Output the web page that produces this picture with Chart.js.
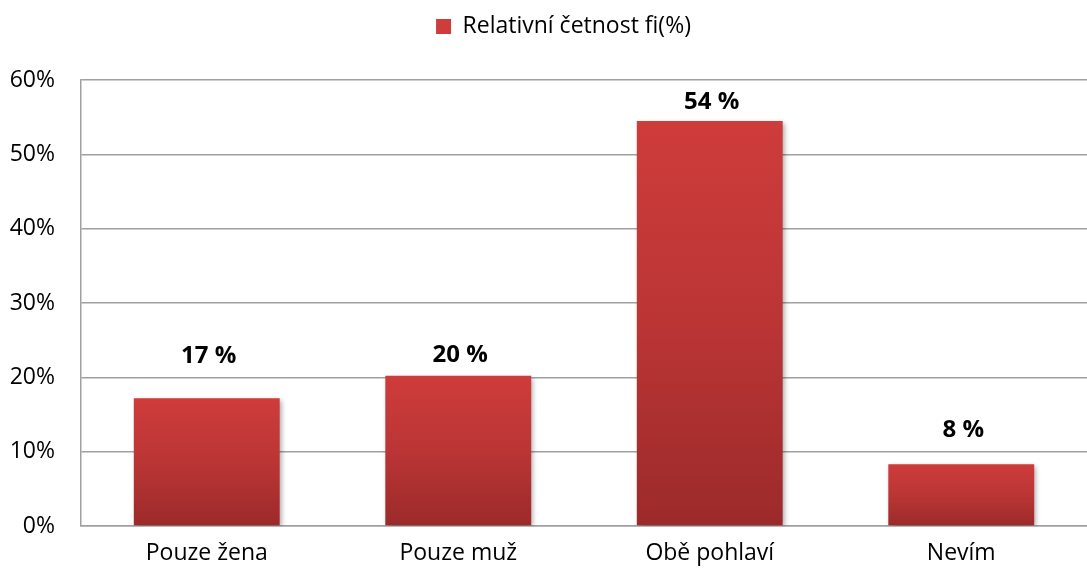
<!DOCTYPE html>
<html><head><meta charset="utf-8">
<script src="https://cdn.jsdelivr.net/npm/chart.js@4/dist/chart.umd.min.js"></script>
<style>html,body{margin:0;padding:0;background:#fff}#wrap{width:1087px;height:572px}</style>
</head><body><div id="wrap"><canvas id="c"></canvas></div>
<script>
const categories = ["Pouze žena", "Pouze muž", "Obě pohlaví", "Nevím"];
const values = [17.2, 20.2, 54.5, 8.3];
const valueLabels = ["17 %", "20 %", "54 %", "8 %"];
const seriesName = "Relativní četnost fi(%)";
const labelLift = [42, 21, 19, 34];

const FONT = "'Open Sans', sans-serif";

function barGradient(context) {
  const chart = context.chart;
  const {ctx, chartArea, scales} = chart;
  if (!chartArea) return '#C83A39';
  if (context.type !== 'data') {
    const g = ctx.createLinearGradient(0, 19, 0, 34);
    g.addColorStop(0, '#CE3C3B'); g.addColorStop(1, '#9E2B2B');
    return g;
  }
  const v = context.raw;
  const top = scales.y.getPixelForValue(v);
  const bot = scales.y.getPixelForValue(0);
  const g = ctx.createLinearGradient(0, top, 0, bot);
  g.addColorStop(0, '#CE3C3B');
  g.addColorStop(0.5, '#BB3535');
  g.addColorStop(1, '#9C2A2A');
  return g;
}

const shadowPlugin = {
  id: 'shadow',
  beforeDatasetsDraw(chart) {
    const c = chart.ctx; c.save();
    c.shadowColor = 'rgba(0,0,0,0.35)'; c.shadowBlur = 5; c.shadowOffsetX = 2; c.shadowOffsetY = 2;
  },
  afterDatasetsDraw(chart) { chart.ctx.restore(); }
};

const labelPlugin = {
  id: 'vlabels',
  afterDatasetsDraw(chart) {
    const c = chart.ctx;
    const meta = chart.getDatasetMeta(0);
    c.save();
    c.font = "bold 24px " + FONT;
    c.fillStyle = '#000';
    c.textAlign = 'center';
    c.textBaseline = 'middle';
    meta.data.forEach((bar, i) => {
      c.fillText(valueLabels[i], bar.x + 2, bar.y - labelLift[i]);
    });
    c.restore();
  }
};

new Chart(document.getElementById('c'), {
  type: 'bar',
  data: {
    labels: categories,
    datasets: [{
      label: seriesName,
      data: values,
      backgroundColor: barGradient,
      borderWidth: 0,
      categoryPercentage: 0.58,
      barPercentage: 1.0
    }]
  },
  options: {
    responsive: true,
    maintainAspectRatio: false,
    animation: false,
    devicePixelRatio: 1,
    layout: { padding: { left: 0, right: 0, top: 5, bottom: 0 } },
    plugins: {
      tooltip: { enabled: false },
      legend: {
        display: true,
        position: 'top',
        labels: {
          font: { family: FONT, size: 23 },
          color: '#000',
          boxWidth: 15, boxHeight: 15,
          padding: 10
        }
      }
    },
    scales: {
      x: {
        afterFit(s) { s.height = 46; },
        grid: { display: false, drawTicks: false },
        border: { display: true, color: '#A0A0A0', width: 1.5 },
        ticks: { font: { family: FONT, size: 23 }, color: '#000', padding: 14, maxRotation: 0 }
      },
      y: {
        min: 0, max: 60,
        afterFit(s) { s.width = 81; },
        grid: { color: '#A0A0A0', lineWidth: 1.5, drawTicks: false },
        border: { display: true, color: '#A0A0A0', width: 1.5 },
        ticks: {
          stepSize: 10,
          font: { family: FONT, size: 23 },
          color: '#000',
          padding: 26,
          callback: v => v + '%'
        }
      }
    }
  },
  plugins: [shadowPlugin, labelPlugin, {
    id: 'legendSpace',
    afterInit(chart) {
      const fit = chart.legend.fit;
      chart.legend.fit = function() { fit.bind(chart.legend)(); this.height = 75; };
    },
    afterLayout(chart) {
      const lg = chart.legend;
      lg.left += 20; lg.right += 20;
    }
  }]
});
</script>
</body></html>
